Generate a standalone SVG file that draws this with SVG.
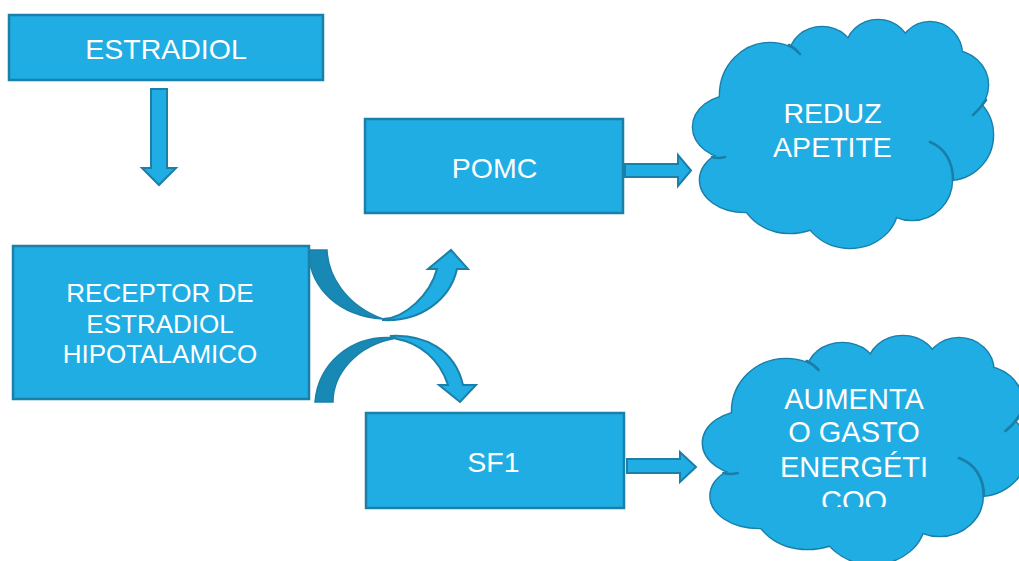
<svg xmlns="http://www.w3.org/2000/svg" xmlns:xlink="http://www.w3.org/1999/xlink" width="1019" height="561" viewBox="0 0 1019 561">
<style>
.box{fill:#1fade3;stroke:#1a80a9;stroke-width:2.5}
.lbl{fill:#ffffff;font-family:"Liberation Sans",Arial,sans-serif;font-size:28.5px;text-anchor:middle}
.lbl2{fill:#ffffff;font-family:"Liberation Sans",Arial,sans-serif;font-size:26px;text-anchor:middle}
.arr{fill:#1fade3;stroke:#1a80a9;stroke-width:2;stroke-linejoin:miter}
.dark{fill:#1889b5;stroke:#1a80a9;stroke-width:1.5}
.cs{fill:none;stroke:#1a7fa8;stroke-width:2.6;vector-effect:non-scaling-stroke}
.cf{fill:#1fade3;stroke:none}
.ci{fill:none;stroke:#1a7fa8;stroke-width:2.6;stroke-linecap:round;vector-effect:non-scaling-stroke}
</style>
<defs>
<g id="cloud">
<g class="cs">
<ellipse cx="735" cy="127" rx="42" ry="32"/>
<ellipse cx="745" cy="180" rx="45" ry="32"/>
<ellipse cx="790" cy="190" rx="50" ry="43"/>
<ellipse cx="850" cy="205" rx="48" ry="43"/>
<ellipse cx="912" cy="180" rx="40" ry="40"/>
<ellipse cx="948" cy="135" rx="45" ry="45"/>
<ellipse cx="950" cy="85" rx="38" ry="35"/>
<ellipse cx="930" cy="55" rx="32" ry="33"/>
<ellipse cx="878" cy="50" rx="32" ry="30"/>
<ellipse cx="822" cy="55" rx="32" ry="28"/>
<ellipse cx="770" cy="95" rx="50" ry="52"/>
</g>
<g class="cf">
<ellipse cx="735" cy="127" rx="42" ry="32"/>
<ellipse cx="745" cy="180" rx="45" ry="32"/>
<ellipse cx="790" cy="190" rx="50" ry="43"/>
<ellipse cx="850" cy="205" rx="48" ry="43"/>
<ellipse cx="912" cy="180" rx="40" ry="40"/>
<ellipse cx="948" cy="135" rx="45" ry="45"/>
<ellipse cx="950" cy="85" rx="38" ry="35"/>
<ellipse cx="930" cy="55" rx="32" ry="33"/>
<ellipse cx="878" cy="50" rx="32" ry="30"/>
<ellipse cx="822" cy="55" rx="32" ry="28"/>
<ellipse cx="770" cy="95" rx="50" ry="52"/>
<ellipse cx="845" cy="135" rx="120" ry="85"/>
</g>
<g class="ci">
<path d="M930,142 C945,148 953,162 953,180"/>
<path d="M986,100 Q980,109 973,115"/>
<path d="M712,157 Q718,159 725,157"/>
<path d="M789,45 Q796,49 800,54"/>
</g>
</g>
<clipPath id="clip2"><rect x="700" y="330" width="319" height="177"/></clipPath>
</defs>

<g id="connectors">
<path class="arr" d="M151,89 L167,89 L167,168 L176,168 L159,185 L142,168 L151,168 Z"/>
<path class="arr" d="M625,164 L678,164 L678,155 L691,170.5 L678,186 L678,177 L625,177 Z"/>
<path class="arr" d="M627,459 L680,459 L680,452 L696,467 L680,482 L680,473 L627,473 Z"/>
<path class="dark" d="M308,250 L327,250 C328,275 345,305 383,319 C340,316 310,290 308,250 Z"/>
<path class="arr" d="M383,319 C405,318 430,295 437,269 L428,269 L451,250 L468,269 L457,269 C450,300 420,322 383,320 Z"/>
<path class="dark" d="M315,402 L333,402 C333,375 355,345 397,338 C350,333 318,365 315,402 Z"/>
<path class="arr" d="M390,336 C425,334 455,350 463,385 L476,385 L460,402 L439,385 L448,385 C440,360 420,343 397,339 Z"/>
</g>

<g id="estradiol">
<rect class="box" x="9" y="15" width="314" height="65"/>
<text class="lbl" x="166" y="59">ESTRADIOL</text>
</g>

<g id="receptor">
<rect class="box" x="13" y="246" width="296" height="153"/>
<text class="lbl2" x="160" y="302">RECEPTOR DE</text>
<text class="lbl2" x="160" y="333">ESTRADIOL</text>
<text class="lbl2" x="160" y="363">HIPOTALAMICO</text>
</g>

<g id="pomc">
<rect class="box" x="365" y="119" width="258" height="94"/>
<text class="lbl" x="494.5" y="178">POMC</text>
</g>

<g id="sf1">
<rect class="box" x="366" y="413" width="258" height="95"/>
<text class="lbl" x="493.5" y="472">SF1</text>
</g>

<g id="reduz-apetite">
<use xlink:href="#cloud" href="#cloud"/>
<text class="lbl" x="832.5" y="123">REDUZ</text>
<text class="lbl" x="832.5" y="157">APETITE</text>
</g>

<g id="aumenta-gasto">
<use xlink:href="#cloud" href="#cloud" transform="translate(703,337) scale(1.08,1) translate(-693,-21)"/>
<g clip-path="url(#clip2)">
<text class="lbl" x="854" y="409" style="font-size:29px">AUMENTA</text>
<text class="lbl" x="854" y="442" style="font-size:29px">O GASTO</text>
<text class="lbl" x="854" y="477" style="font-size:29px">ENERGÉTI</text>
<text class="lbl" x="854" y="511" style="font-size:29px">COO</text>
</g>
</g>
</svg>
